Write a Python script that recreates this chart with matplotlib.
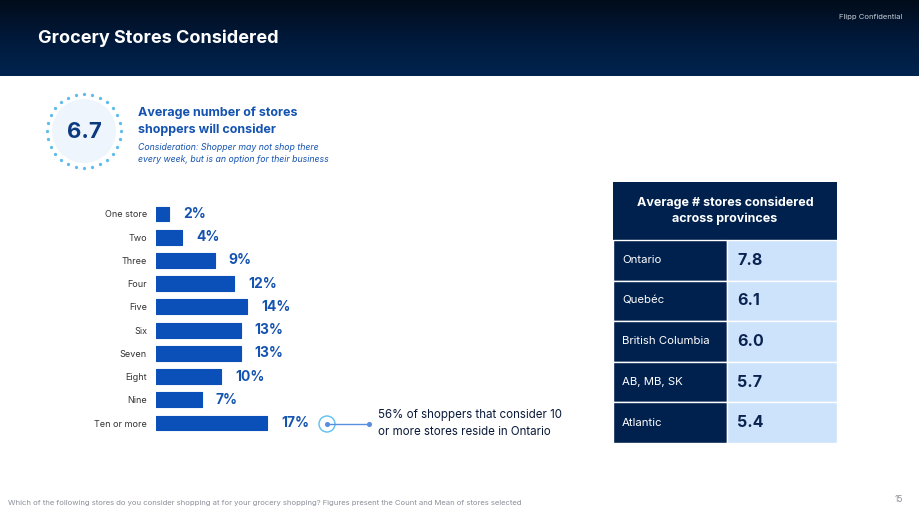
import matplotlib.pyplot as plt
import numpy as np
from matplotlib.colors import LinearSegmentedColormap
from matplotlib.patches import Circle, Rectangle

plt.rcParams['font.family'] = ['Inter', 'DejaVu Sans']

categories = ['One store', 'Two', 'Three', 'Four', 'Five', 'Six', 'Seven', 'Eight', 'Nine', 'Ten or more']
shares = [2, 4, 9, 12, 14, 13, 13, 10, 7, 17]

provinces = ['Ontario', 'Quebéc', 'British Columbia', 'AB, MB, SK', 'Atlantic']
province_avg = [7.8, 6.1, 6.0, 5.7, 5.4]

overall_avg = 6.7

W, H = 920, 518
NAVY = '#00214d'
BLUE = '#0a50b8'
LABEL_BLUE = '#1553b0'

fig = plt.figure(figsize=(W / 100, H / 100), dpi=100)
fig.patch.set_facecolor('white')

# background axes in pixel coordinates
bg = fig.add_axes([0, 0, 1, 1])
bg.set_xlim(0, W)
bg.set_ylim(H, 0)
bg.axis('off')

# header gradient
grad = np.linspace(0, 1, 200).reshape(-1, 1)
cmap = LinearSegmentedColormap.from_list('hdr', ['#020c1a', '#01193a', '#00244f'])
bg.imshow(grad, cmap=cmap, aspect='auto', extent=(0, W, 76, 0), zorder=0)
bg.text(38, 38, 'Grocery Stores Considered', color='white', fontsize=13,
        fontweight='bold', va='center', ha='left')
bg.text(902, 17, 'Flipp Confidential', color='#c8cfd9', fontsize=5.5, va='center', ha='right')

# average circle
bg.add_patch(Circle((84, 131), 32, facecolor='#eef5fc', edgecolor='none', zorder=1))
ang = np.linspace(0, 2 * np.pi, 29)[:-1]
bg.scatter(84 + 37 * np.cos(ang), 131 + 37 * np.sin(ang), s=1.8, color='#5cbcee', zorder=2)
bg.text(84, 132, f'{overall_avg}', color='#0b3a7e', fontsize=16, fontweight='bold',
        ha='center', va='center', zorder=3)
bg.text(138, 113, 'Average number of stores', color=LABEL_BLUE, fontsize=9,
        fontweight='bold', va='center')
bg.text(138, 130, 'shoppers will consider', color=LABEL_BLUE, fontsize=9,
        fontweight='bold', va='center')
bg.text(138, 148, 'Consideration: Shopper may not shop there', color=LABEL_BLUE,
        fontsize=6.3, style='italic', va='center')
bg.text(138, 159, 'every week, but is an option for their business', color=LABEL_BLUE,
        fontsize=6.3, style='italic', va='center')

# annotation for "Ten or more"
bg.add_patch(Circle((327, 424), 8, facecolor='white', edgecolor='#5cc0ee', lw=1, zorder=2))
bg.plot([327, 369], [424, 424], color='#5a8fe0', lw=1, zorder=3)
bg.scatter([327, 369], [424, 424], s=7, color='#5a8fe0', zorder=4)
bg.text(378, 415, '56% of shoppers that consider 10', color='#0a1a3a', fontsize=8.3, va='center')
bg.text(378, 432, 'or more stores reside in Ontario', color='#0a1a3a', fontsize=8.3, va='center')

# province table
tx0, tx1, tx2 = 613, 727, 837
hy0, hy1 = 182, 240
row_h = (443 - hy1) / len(provinces)
bg.add_patch(Rectangle((tx0, hy0), tx2 - tx0, hy1 - hy0, facecolor=NAVY, edgecolor='none'))
bg.text((tx0 + tx2) / 2, 203, 'Average # stores considered', color='white', fontsize=9,
        fontweight='bold', ha='center', va='center')
bg.text((tx0 + tx2) / 2, 219, 'across provinces', color='white', fontsize=9,
        fontweight='bold', ha='center', va='center')
for i, (prov, val) in enumerate(zip(provinces, province_avg)):
    y0 = hy1 + i * row_h
    bg.add_patch(Rectangle((tx0, y0), tx1 - tx0, row_h, facecolor=NAVY,
                           edgecolor='white', lw=1))
    bg.add_patch(Rectangle((tx1, y0), tx2 - tx1, row_h, facecolor='#cde3fb',
                           edgecolor='white', lw=1))
    bg.text(tx0 + 9, y0 + row_h / 2, prov, color='white', fontsize=8.2, va='center')
    bg.text(tx1 + 10, y0 + row_h / 2, f'{val:.1f}', color='#0b2350', fontsize=11.5,
            fontweight='bold', va='center')

# footer
bg.text(8, 503, 'Which of the following stores do you consider shopping at for your grocery shopping? '
        'Figures present the Count and Mean of stores selected', color='#8a8f98', fontsize=5.5,
        va='center')
bg.text(903, 500, '15', color='#8a8f98', fontsize=6, ha='right', va='center')

# bar chart
px_per_pct = (267 - 156) / 17
ax_left, ax_right = 156, 356
ax_top, ax_bot = 202.35, 434.65
ax = fig.add_axes([ax_left / W, 1 - ax_bot / H, (ax_right - ax_left) / W, (ax_bot - ax_top) / H])
ax.patch.set_alpha(0)
y = np.arange(len(categories))
ax.barh(y, shares, height=0.64, color=BLUE, edgecolor=BLUE, lw=0.8, joinstyle='round')
ax.set_xlim(0, (ax_right - ax_left) / px_per_pct)
ax.set_ylim(len(categories) - 0.5, -0.5)
ax.set_yticks(y)
ax.set_yticklabels(categories, fontsize=6.5, color='#333333')
ax.tick_params(axis='y', length=0, pad=6.5)
ax.set_xticks([])
for s in ax.spines.values():
    s.set_visible(False)
for yi, v in zip(y, shares):
    ax.annotate(f'{v}%', (v, yi), xytext=(10, 0), textcoords='offset points',
                color=LABEL_BLUE, fontsize=10, fontweight='bold', va='center', ha='left')

fig.savefig('out.png', dpi=100)
